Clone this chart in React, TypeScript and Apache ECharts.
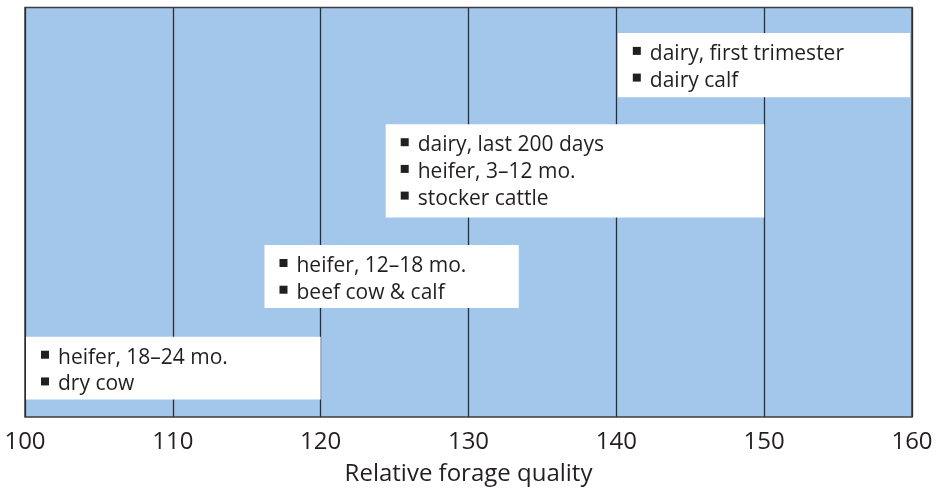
import React, { useEffect, useRef } from "react";
import * as echarts from "echarts";

const xTicks = [100, 110, 120, 130, 140, 150, 160];
const boxStart = [100, 116.2, 124.4, 140.1];
const boxEnd = [120, 133.4, 150, 160];
const boxTop = [19.6, 42.0, 71.5, 93.8];
const boxBottom = [4.3, 26.6, 48.7, 78.1];
const boxLabels: string[][] = [
  ["heifer, 18–24 mo.", "dry cow"],
  ["heifer, 12–18 mo.", "beef cow & calf"],
  ["dairy, last 200 days", "heifer, 3–12 mo.", "stocker cattle"],
  ["dairy, first trimester", "dairy calf"],
];
const xTitle = "Relative forage quality";

const FONT = "'Open Sans', sans-serif";
const TXT = "#231f20";

export default function App() {
  const ref = useRef<HTMLDivElement>(null);
  useEffect(() => {
    if (!ref.current) return;
    const chart = echarts.init(ref.current, undefined, { renderer: "svg" });
    const data = boxStart.map((s, i) => [s, boxEnd[i], boxTop[i], boxBottom[i], i]);
    chart.setOption({
      animation: false,
      grid: {
        left: 25,
        right: 39,
        top: 7.5,
        bottom: 66,
        show: true,
        backgroundColor: "#a2c7eb",
        borderColor: "#3d3d3d",
        borderWidth: 1.5,
      },
      xAxis: {
        type: "value",
        min: xTicks[0],
        max: xTicks[xTicks.length - 1],
        interval: 10,
        name: xTitle,
        nameLocation: "middle",
        nameGap: 42,
        nameTextStyle: { fontFamily: FONT, fontSize: 24, color: TXT },
        axisLine: { show: false },
        axisTick: { show: false },
        axisLabel: { fontFamily: FONT, fontSize: 24, color: TXT, margin: 10, showMinLabel: true, showMaxLabel: true },
        splitLine: { show: true, lineStyle: { color: "#2e2e2e", width: 1.3 } },
      },
      yAxis: {
        type: "value",
        min: 0,
        max: 100,
        show: false,
        splitLine: { show: false },
      },
      series: [
        {
          type: "custom",
          data,
          clip: false,
          renderItem: (params: any, api: any) => {
            const x0 = api.value(0);
            const x1 = api.value(1);
            const yT = api.value(2);
            const yB = api.value(3);
            const idx = api.value(4);
            const p0 = api.coord([x0, yT]);
            const p1 = api.coord([x1, yB]);
            const left = p0[0] + (x0 <= 100 ? 1 : 0);
            const right = p1[0] - (x1 >= 160 ? 2 : 0);
            const top = p0[1];
            const bottom = p1[1];
            const children: any[] = [
              {
                type: "rect",
                shape: { x: left, y: top, width: right - left, height: bottom - top },
                style: { fill: "#ffffff" },
              },
            ];
            const lines = boxLabels[idx];
            lines.forEach((t, j) => {
              const cy = top + 19 + j * 26.7;
              children.push({
                type: "rect",
                shape: { x: left + 15, y: cy - 5, width: 8, height: 8 },
                style: { fill: TXT },
              });
              children.push({
                type: "text",
                x: left + 32,
                y: cy,
                style: {
                  text: t,
                  fontFamily: FONT,
                  fontSize: 21,
                  fill: TXT,
                  verticalAlign: "middle",
                  align: "left",
                },
              });
            });
            return { type: "group", children };
          },
        },
      ],
    });
    return () => chart.dispose();
  }, []);
  return (
    <div
      ref={ref}
      style={{ position: "fixed", left: 0, top: 0, width: 951, height: 488 }}
    />
  );
}
